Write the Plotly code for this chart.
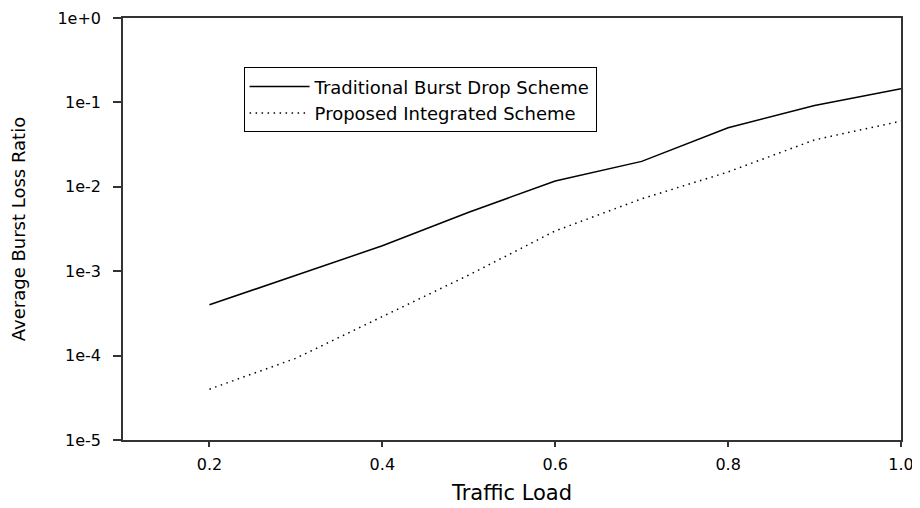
import plotly.graph_objects as go

# traffic load values
load = [0.2, 0.3, 0.4, 0.5, 0.6, 0.7, 0.8, 0.9, 1.0]

# average burst loss ratio
traditional = [4.0e-4, 9.0e-4, 2.0e-3, 5.0e-3, 1.17e-2, 2.0e-2, 5.0e-2, 9.2e-2, 1.45e-1]
proposed = [4.0e-5, 9.3e-5, 2.9e-4, 9.0e-4, 3.0e-3, 7.2e-3, 1.5e-2, 3.6e-2, 6.0e-2]

x_ticks = [0.2, 0.4, 0.6, 0.8, 1.0]
x_labels = ["0.2", "0.4", "0.6", "0.8", "1.0"]
y_ticks = [1e-5, 1e-4, 1e-3, 1e-2, 1e-1, 1e0]
y_labels = ["1e-5", "1e-4", "1e-3", "1e-2", "1e-1", "1e+0"]

FONT = "DejaVu Sans"
AXIS_COLOR = "#333333"

fig = go.Figure()

fig.add_trace(go.Scatter(
    x=load, y=traditional, mode="lines",
    name="Traditional Burst Drop Scheme",
    line=dict(color="black", width=1.5),
))
fig.add_trace(go.Scatter(
    x=load, y=proposed, mode="lines",
    name="Proposed Integrated Scheme",
    line=dict(color="black", width=1.5, dash="1.5px,4.5px"),
))

# the page adds an 8px body margin, so the figure is sized to fit inside the window
fig.update_layout(
    width=912, height=500,
    margin=dict(l=115, r=19, t=10, b=68),
    paper_bgcolor="white",
    plot_bgcolor="white",
    font=dict(family=FONT, size=16, color="black"),
    showlegend=True,
    legend=dict(
        x=0.155, y=0.883, xanchor="left", yanchor="top",
        bordercolor="black", borderwidth=1, bgcolor="white",
        font=dict(family=FONT, size=18, color="black"),
        tracegroupgap=0, itemwidth=60,
    ),
    xaxis=dict(
        range=[0.1, 1.0],
        tickvals=x_ticks, ticktext=x_labels,
        ticks="outside", ticklen=5, tickwidth=1.5, tickcolor=AXIS_COLOR,
        showline=True, linecolor=AXIS_COLOR, linewidth=1.5, mirror=True,
        showgrid=False, zeroline=False, automargin=False,
        tickfont=dict(size=16), ticklabelstandoff=4,
        title=dict(text="Traffic Load", font=dict(size=21), standoff=12),
    ),
    yaxis=dict(
        type="log", range=[-5, 0],
        tickvals=y_ticks, ticktext=y_labels,
        ticks="outside", ticklen=8, tickwidth=1.5, tickcolor=AXIS_COLOR,
        showline=True, linecolor=AXIS_COLOR, linewidth=1.5, mirror=True,
        showgrid=False, zeroline=False, automargin=False,
        tickfont=dict(size=16), ticklabelstandoff=9,
        title=dict(text="Average Burst Loss Ratio", font=dict(size=18), standoff=30),
    ),
)

fig.write_html("out.html")
